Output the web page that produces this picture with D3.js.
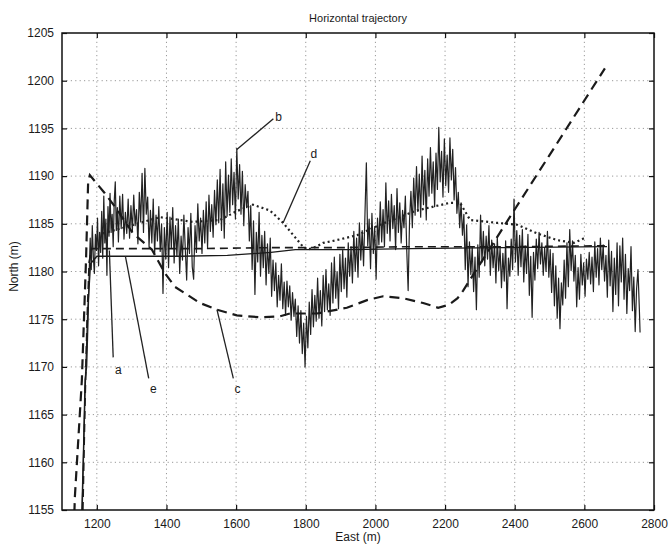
<!DOCTYPE html>
<html><head><meta charset="utf-8">
<script src="https://cdn.jsdelivr.net/npm/d3@7"></script>
<style>body{margin:0;background:#fff}svg{display:block}text{font-family:"Liberation Sans",Arial,sans-serif;fill:#1a1a1a}</style>
</head><body><svg id="c" width="670" height="549"></svg>
<script>
const title = "Horizontal trajectory";
const xLabel = "East (m)";
const yLabel = "North (m)";
const xTicks = [1200,1400,1600,1800,2000,2200,2400,2600,2800];
const yTicks = [1155,1160,1165,1170,1175,1180,1185,1190,1195,1200,1205];
const xDomain = [1100, 2800];
const yDomain = [1155, 1205];

// curve a (dashed)
const curveA = [[1160,1155],[1166,1166],[1172,1175],[1178,1181],[1185,1182.4],[1300,1182.4],[1500,1182.4],[1700,1182.5],[1900,1182.5],[2100,1182.6],[2400,1182.6],[2665,1182.7]];
// curve e (solid smooth)
const curveE = [[1158,1155],[1166,1167],[1174,1176],[1182,1180.8],[1200,1181.6],[1300,1181.6],[1440,1181.6],[1575,1181.7],[1700,1182.0],[1770,1182.3],[1930,1182.3],[2100,1182.4],[2360,1182.5],[2665,1182.6]];
// curve c (heavy dashed)
const curveC = [[1134,1153],[1137,1156.4],[1157,1168.6],[1169,1181.2],[1175,1189.3],[1180,1190.1],[1223,1188.2],[1252,1186.8],[1304,1184.0],[1358,1182.3],[1396,1179.8],[1424,1178.4],[1496,1176.7],[1545,1176.0],[1602,1175.4],[1669,1175.2],[1726,1175.3],[1755,1175.6],[1832,1175.6],[1918,1176.2],[1976,1177.0],[2022,1177.4],[2079,1177.2],[2137,1176.7],[2180,1176.2],[2210,1176.5],[2236,1177.2],[2252,1178.0],[2400,1186.5],[2500,1192.2],[2659,1201.3]];
// curve d (dotted)
const curveD = [[1218,1184.0],[1287,1184.7],[1381,1185.7],[1476,1185.2],[1554,1185.4],[1600,1186.3],[1648,1187.0],[1697,1186.4],[1735,1185.1],[1769,1183.6],[1792,1182.6],[1806,1182.3],[1830,1182.6],[1850,1183.0],[1890,1183.3],[1947,1183.8],[2013,1184.9],[2070,1185.7],[2119,1186.4],[2214,1187.2],[2243,1187.2],[2272,1185.4],[2349,1185.1],[2407,1184.9],[2464,1184.0],[2521,1183.3],[2570,1183.0],[2600,1183.5]];
// curve b (noisy measured track)
const curveB = [[1157,1155],[1162,1162],[1166,1168.6],[1171,1170],[1175,1175],[1178,1179.8],
[1181,1183.5],[1184,1180.2],[1187,1184.8],[1190,1181.5],[1193,1179.8],[1196,1183.9],[1199,1182.2],[1202,1185.6],[1205,1180.6],[1208,1184.1],[1211,1182.0],[1214,1186.3],[1217,1181.4],[1220,1187.9],[1223,1183.0],[1226,1185.5],[1229,1179.6],[1232,1186.8],[1235,1183.7],[1238,1188.2],[1241,1184.1],[1244,1186.0],[1247,1182.6],[1250,1187.4],[1253,1189.4],[1256,1184.3],[1259,1186.7],[1262,1183.1],[1266,1187.9],[1270,1184.5],[1274,1188.1],[1278,1183.4],[1282,1186.2],[1286,1184.0],[1290,1187.6],[1294,1183.5],[1298,1186.9],[1302,1184.2],[1306,1188.0],[1310,1184.8],[1314,1186.5],[1318,1182.9],[1322,1188.3],[1326,1185.2],[1330,1190.3],[1334,1184.1],[1338,1190.8],[1342,1186.0],[1346,1187.8],[1350,1182.6],[1354,1186.4],[1358,1183.0],[1362,1187.6],[1366,1181.8],[1370,1185.9],[1374,1183.2],[1378,1186.8],[1382,1182.1],[1386,1185.0],[1390,1177.7],[1394,1184.6],[1398,1181.3],[1402,1186.2],[1406,1180.4],[1410,1185.7],[1414,1182.5],[1418,1186.7],[1422,1180.9],[1426,1184.8],[1430,1181.6],[1434,1185.5],[1438,1179.8],[1442,1183.7],[1446,1181.2],[1450,1185.9],[1454,1182.4],[1458,1179.1],[1462,1184.6],[1466,1181.9],[1470,1186.1],[1474,1180.5],[1478,1179.2],[1482,1184.8],[1486,1182.0],[1490,1187.1],[1494,1183.2],[1498,1185.6],[1502,1181.9],[1506,1186.4],[1510,1183.0],[1514,1187.3],[1518,1182.5],[1522,1188.0],[1526,1184.2],[1530,1187.0],[1534,1183.6],[1538,1188.5],[1542,1184.9],[1546,1189.6],[1550,1185.1],[1554,1190.7],[1558,1184.3],[1562,1189.2],[1566,1183.5],[1570,1191.5],[1574,1185.8],[1578,1190.1],[1582,1186.2],[1586,1191.8],[1590,1187.0],[1594,1190.4],[1598,1185.5],[1602,1192.9],[1606,1187.6],[1610,1191.2],[1614,1186.0],[1618,1190.5],[1622,1184.8],[1626,1189.1],[1630,1186.7],[1634,1188.4],[1638,1183.2],[1642,1186.9],[1646,1180.2],[1650,1185.3],[1654,1177.6],[1658,1184.1],[1662,1181.0],[1666,1186.2],[1670,1179.5],[1674,1183.8],[1678,1180.4],[1682,1184.2],[1686,1178.6],[1690,1182.9],[1694,1179.8],[1698,1183.5],[1702,1177.4],[1706,1181.2],[1710,1178.0],[1714,1180.9],[1718,1176.3],[1722,1179.6],[1726,1177.0],[1730,1180.8],[1734,1176.1],[1738,1178.9],[1742,1175.4],[1746,1179.0],[1750,1176.3],[1754,1178.5],[1758,1174.9],[1762,1177.8],[1766,1175.3],[1770,1177.1],[1774,1173.2],[1778,1176.4],[1782,1172.5],[1786,1175.9],[1790,1171.4],[1794,1174.6],[1798,1170.0],[1802,1175.3],[1806,1172.0],[1810,1176.8],[1814,1173.4],[1818,1178.1],[1822,1174.2],[1826,1177.5],[1830,1174.8],[1834,1179.3],[1838,1175.1],[1842,1178.0],[1846,1174.3],[1850,1179.6],[1854,1175.8],[1858,1180.2],[1862,1176.0],[1866,1178.7],[1870,1175.4],[1874,1180.9],[1878,1176.7],[1882,1181.5],[1886,1177.2],[1890,1180.0],[1894,1176.1],[1898,1181.8],[1902,1177.9],[1906,1182.3],[1910,1178.2],[1914,1181.4],[1918,1177.3],[1922,1183.0],[1926,1179.5],[1930,1182.6],[1934,1178.8],[1938,1184.2],[1942,1180.0],[1946,1183.5],[1950,1179.4],[1954,1185.1],[1958,1181.2],[1962,1184.3],[1966,1180.6],[1970,1186.0],[1974,1191.4],[1978,1182.7],[1982,1185.5],[1986,1180.3],[1990,1186.1],[1994,1181.9],[1998,1184.7],[2002,1179.2],[2006,1185.6],[2010,1182.8],[2014,1187.3],[2018,1183.1],[2022,1186.5],[2026,1182.6],[2030,1189.3],[2034,1184.0],[2038,1187.4],[2042,1183.2],[2046,1188.1],[2050,1184.5],[2054,1186.9],[2058,1182.3],[2062,1188.7],[2066,1184.1],[2070,1187.2],[2074,1183.0],[2078,1186.4],[2082,1184.6],[2086,1187.9],[2090,1182.2],[2094,1178.0],[2098,1185.3],[2102,1188.4],[2106,1184.6],[2110,1189.8],[2114,1185.9],[2118,1191.0],[2122,1186.3],[2126,1190.2],[2130,1185.7],[2134,1192.1],[2138,1187.0],[2142,1190.6],[2146,1185.4],[2150,1191.8],[2154,1187.9],[2158,1193.0],[2162,1188.2],[2166,1191.5],[2170,1186.8],[2174,1192.4],[2178,1188.6],[2182,1195.1],[2186,1189.4],[2190,1192.6],[2194,1187.8],[2198,1193.9],[2202,1189.0],[2206,1192.2],[2210,1188.3],[2214,1194.0],[2218,1189.6],[2222,1192.8],[2226,1187.5],[2230,1190.9],[2234,1186.1],[2238,1188.3],[2242,1184.6],[2246,1187.2],[2250,1183.8],[2254,1186.0],[2258,1180.2],[2262,1184.9],[2266,1178.4],[2270,1183.1],[2274,1179.7],[2278,1182.6],[2282,1177.9],[2286,1181.5],[2290,1176.0],[2294,1182.8],[2298,1179.4],[2302,1185.9],[2306,1181.0],[2310,1184.2],[2314,1180.6],[2318,1183.7],[2322,1181.3],[2326,1184.8],[2330,1179.6],[2334,1183.3],[2338,1180.4],[2342,1182.9],[2346,1178.8],[2350,1183.6],[2354,1180.1],[2358,1182.5],[2362,1178.3],[2366,1181.9],[2370,1179.0],[2374,1183.2],[2378,1176.1],[2382,1181.4],[2386,1179.5],[2390,1183.4],[2394,1180.2],[2398,1187.6],[2402,1181.0],[2406,1184.3],[2410,1179.6],[2414,1183.8],[2418,1180.5],[2422,1184.4],[2426,1178.9],[2430,1182.7],[2434,1179.8],[2438,1183.9],[2442,1177.5],[2446,1181.6],[2450,1175.2],[2454,1182.0],[2458,1179.1],[2462,1183.4],[2466,1180.3],[2470,1184.1],[2474,1180.8],[2478,1183.0],[2482,1179.6],[2486,1182.5],[2490,1180.0],[2494,1184.2],[2498,1179.4],[2502,1182.3],[2506,1177.8],[2510,1181.9],[2514,1176.4],[2518,1180.6],[2522,1175.1],[2526,1179.3],[2530,1174.0],[2534,1178.8],[2538,1176.5],[2542,1181.2],[2546,1177.2],[2550,1183.0],[2554,1178.4],[2558,1184.4],[2562,1180.1],[2566,1183.2],[2570,1179.0],[2574,1181.7],[2578,1176.3],[2582,1180.4],[2586,1177.1],[2590,1181.8],[2594,1178.6],[2598,1180.9],[2602,1177.4],[2606,1181.3],[2610,1179.2],[2614,1182.0],[2618,1178.7],[2622,1181.5],[2626,1177.9],[2630,1183.1],[2634,1179.4],[2638,1182.4],[2642,1178.6],[2646,1183.5],[2650,1180.2],[2654,1182.8],[2658,1179.0],[2662,1181.7],[2666,1177.3],[2670,1183.3],[2674,1178.5],[2678,1182.1],[2682,1175.8],[2686,1181.4],[2690,1177.6],[2694,1183.0],[2698,1176.4],[2702,1182.7],[2706,1178.9],[2710,1183.5],[2714,1177.1],[2718,1181.8],[2722,1175.6],[2726,1180.3],[2730,1178.0],[2734,1182.6],[2738,1175.9],[2742,1179.4],[2746,1173.7],[2750,1178.2],[2754,1180.2],[2758,1176.0],[2760,1173.6]];

// curve labels: name, label position, leader start, leader end
const labels = [
  {name:"a", at:[1262,1169.6], from:[1247,1171.0], to:[1236,1182.2]},
  {name:"e", at:[1362,1167.6], from:[1349,1168.8], to:[1282,1181.6]},
  {name:"c", at:[1604,1167.6], from:[1592,1168.8], to:[1545,1176.0]},
  {name:"b", at:[1722,1196.1], from:[1707,1196.0], to:[1602,1192.8]},
  {name:"d", at:[1823,1192.2], from:[1813,1191.6], to:[1735,1185.1]}
];

const svg = d3.select("#c");
const L = 62, R = 654, T = 33, B = 510;
const x = d3.scaleLinear().domain(xDomain).range([L, R]);
const y = d3.scaleLinear().domain(yDomain).range([B, T]);

svg.append("defs").append("clipPath").attr("id","clip")
  .append("rect").attr("x",L).attr("y",T).attr("width",R-L).attr("height",B-T);

// grid
const grid = svg.append("g").attr("stroke","#999").attr("stroke-width",1).attr("stroke-dasharray","1.2,3.2");
grid.selectAll("line.gx").data(xTicks.filter(d=>d>xDomain[0]&&d<xDomain[1])).join("line")
  .attr("x1",d=>x(d)).attr("x2",d=>x(d)).attr("y1",T).attr("y2",B);
grid.selectAll("line.gy").data(yTicks.filter(d=>d>yDomain[0]&&d<yDomain[1])).join("line")
  .attr("y1",d=>y(d)).attr("y2",d=>y(d)).attr("x1",L).attr("x2",R);

// axes
const tickFmt = d3.format("d");
const axB = svg.append("g").attr("transform",`translate(0,${B})`)
  .call(d3.axisBottom(x).tickValues(xTicks).tickFormat(tickFmt).tickSizeInner(-5).tickSizeOuter(0).tickPadding(9));
const axT = svg.append("g").attr("transform",`translate(0,${T})`)
  .call(d3.axisTop(x).tickValues(xTicks).tickFormat("").tickSizeInner(-5).tickSizeOuter(0));
const axL = svg.append("g").attr("transform",`translate(${L},0)`)
  .call(d3.axisLeft(y).tickValues(yTicks).tickFormat(tickFmt).tickSizeInner(-5).tickSizeOuter(0).tickPadding(8));
const axR = svg.append("g").attr("transform",`translate(${R},0)`)
  .call(d3.axisRight(y).tickValues(yTicks).tickFormat("").tickSizeInner(-5).tickSizeOuter(0));
[axB,axT,axL,axR].forEach(g=>{
  g.select(".domain").remove();
  g.selectAll("line").attr("stroke","#111").attr("stroke-width",1.2);
  g.selectAll("text").attr("font-size",12).attr("fill","#1a1a1a").attr("font-family","'Liberation Sans',Arial,sans-serif");
});

const line = d3.line().x(d=>x(d[0])).y(d=>y(d[1]));
const plot = svg.append("g").attr("clip-path","url(#clip)");
plot.append("path").datum(curveB).attr("d",line).attr("fill","none").attr("stroke","#222").attr("stroke-width",1.2).attr("stroke-linejoin","round");
plot.append("path").datum(curveE).attr("d",line).attr("fill","none").attr("stroke","#1a1a1a").attr("stroke-width",1.3);
plot.append("path").datum(curveA).attr("d",line).attr("fill","none").attr("stroke","#1a1a1a").attr("stroke-width",1.6).attr("stroke-dasharray","8,5");
plot.append("path").datum(curveD).attr("d",line).attr("fill","none").attr("stroke","#222").attr("stroke-width",2.2).attr("stroke-dasharray","2,3");
plot.append("path").datum(curveC).attr("d",line).attr("fill","none").attr("stroke","#1a1a1a").attr("stroke-width",2.2).attr("stroke-dasharray","10,6");

// label leaders
const lab = svg.append("g");
labels.forEach(l=>{
  lab.append("line").attr("x1",x(l.from[0])).attr("y1",y(l.from[1])).attr("x2",x(l.to[0])).attr("y2",y(l.to[1]))
    .attr("stroke","#222").attr("stroke-width",1.3);
  lab.append("text").attr("x",x(l.at[0])).attr("y",y(l.at[1])).attr("font-size",12).attr("text-anchor","middle")
    .attr("dominant-baseline","middle").text(l.name);
});

// box
svg.append("rect").attr("x",L).attr("y",T).attr("width",R-L).attr("height",B-T)
  .attr("fill","none").attr("stroke","#111").attr("stroke-width",1.5);

// titles
svg.append("text").attr("x",(L+R)/2).attr("y",T-11).attr("text-anchor","middle").attr("font-size",11).text(title);
svg.append("text").attr("x",(L+R)/2).attr("y",B+31).attr("text-anchor","middle").attr("font-size",12).text(xLabel);
svg.append("text").attr("transform",`translate(18,${(T+B)/2 - 5}) rotate(-90)`).attr("text-anchor","middle").attr("font-size",12).text(yLabel);
</script></body></html>
